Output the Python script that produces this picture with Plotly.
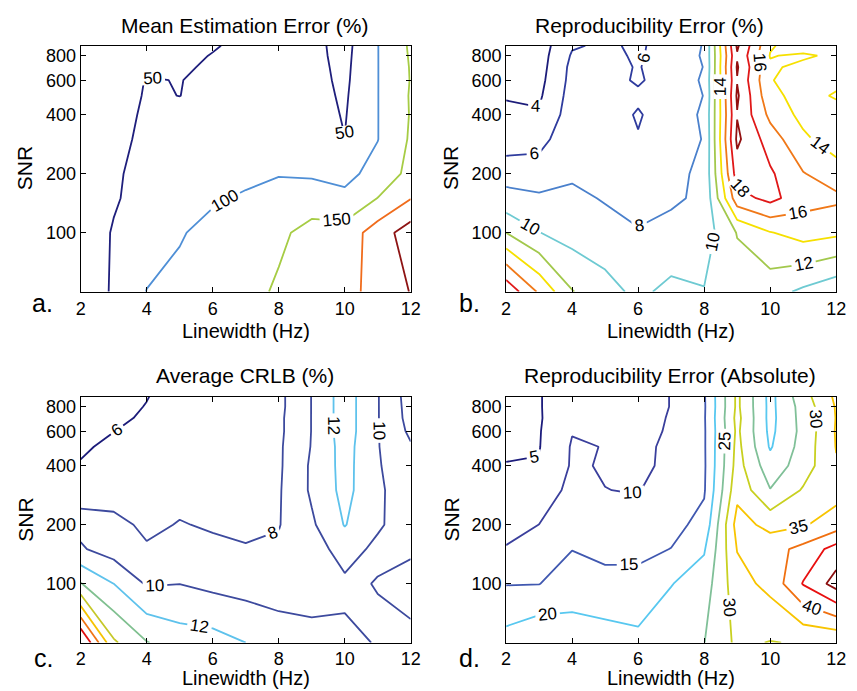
import plotly.graph_objects as go

# ---------------- data ----------------
LINEWIDTH = [2, 3, 4, 5, 6, 7, 8, 9, 10, 11, 12]           # Hz
SNR = [50, 100, 150, 200, 300, 400, 500, 600, 700, 800, 900]

# rows follow SNR (bottom -> top), columns follow LINEWIDTH
MEAN_ERR = [
    [22, 55, 101, 113, 125, 138, 155, 168, 185, 216, 252],
    [25, 53, 80, 96, 115, 130, 143, 162, 170, 225, 275],
    [28, 46, 65, 82, 94, 106, 120, 132, 110, 151, 198],
    [30, 44, 64, 75, 83, 88, 97, 92, 88, 115, 165],
    [31, 41, 57, 62, 68, 72, 85, 72, 50.5, 99, 156],
    [31, 40, 54, 56, 60, 66, 75, 67, 47, 99, 153],
    [31, 39, 52, 49.8, 56, 62, 70, 65, 44, 99, 154],
    [31, 38, 51, 49.5, 54, 60, 66, 64, 41, 99, 152],
    [31, 37, 47, 48, 52, 58, 63, 63, 39, 99, 153],
    [31, 36, 45, 47, 50.5, 56, 61, 62, 37, 99, 155],
    [31, 35, 44, 46, 49, 53, 60, 62, 35, 99, 157],
]

REPRO_ERR = [
    [19.5, 15.7, 12.1, 10.6, 9.6, 10.5, 10.1, 11.0, 10.8, 9.6, 8.5],
    [12.0, 10.05, 9.2, 9.0, 8.1, 8.6, 9.0, 12.1, 13.9, 14.8, 14.4],
    [8.55, 8.3, 8.6, 7.8, 7.5, 7.7, 8.37, 17.2, 18.6, 16.8, 16.4],
    [7.35, 7.0, 7.6, 7.4, 7.0, 7.5, 8.4, 19.0, 18.3, 16.1, 15.0],
    [4.75, 5.3, 7.4, 7.0, 6.1, 7.0, 8.1, 20.4, 17.0, 14.4, 12.9],
    [4.3, 4.2, 7.0, 6.8, 5.85, 6.9, 8.3, 19.9, 15.5, 13.4, 13.2],
    [3.9, 3.7, 6.8, 6.7, 6.3, 6.8, 8.05, 20.3, 14.5, 13.3, 14.2],
    [3.7, 3.4, 6.6, 6.6, 5.8, 6.8, 8.25, 19.9, 14.1, 13.2, 13.5],
    [3.5, 3.2, 6.5, 6.5, 5.9, 6.9, 8.05, 20.2, 14.3, 13.5, 13.4],
    [3.4, 3.1, 6.2, 6.4, 5.8, 6.8, 8.2, 19.8, 13.9, 14.3, 13.6],
    [3.3, 3.0, 5.8, 6.3, 5.7, 6.9, 8.1, 20.3, 14.2, 13.0, 13.8],
]

CRLB = [
    [24.5, 16.3, 14.1, 13.0, 12.8, 12.0, 10.8, 10.6, 10.4, 9.9, 9.0],
    [14.1, 12.0, 9.8, 9.98, 9.5, 9.2, 9.3, 9.2, 9.6, 7.6, 6.5],
    [10.2, 9.15, 8.2, 8.8, 8.4, 8.1, 8.3, 9.0, 10.9, 9.5, 8.6],
    [9.5, 8.6, 7.6, 8.1, 7.8, 7.7, 7.9, 9.7, 12.1, 10.3, 8.8],
    [6.3, 7.0, 7.2, 7.4, 7.4, 7.5, 7.8, 10.3, 12.6, 10.4, 8.6],
    [6.1, 6.6, 6.9, 7.2, 7.2, 7.4, 7.7, 10.3, 12.7, 10.2, 8.4],
    [5.8, 6.3, 6.6, 7.0, 7.1, 7.3, 7.7, 10.1, 12.8, 10.1, 8.2],
    [5.6, 5.98, 6.4, 6.9, 7.0, 7.3, 7.6, 10.05, 13.0, 10.1, 7.6],
    [5.5, 5.7, 6.2, 6.8, 6.9, 7.2, 7.6, 10.05, 13.0, 10.1, 7.3],
    [5.4, 5.6, 6.05, 6.7, 6.8, 7.2, 7.5, 10.05, 13.0, 10.1, 7.2],
    [5.3, 5.5, 5.95, 6.6, 6.7, 7.2, 7.5, 10.05, 13.0, 10.1, 7.1],
]

REPRO_ABS = [
    [22, 24.5, 23, 22.5, 21.3, 23.5, 24.9, 31, 29.8, 30.4, 30.3],
    [14.8, 14.9, 17.2, 16.2, 16.5, 19.8, 22.5, 33, 36.5, 45.3, 52],
    [10.2, 12, 14.9, 14.0, 13.8, 15.1, 19.5, 35.2, 38, 41.5, 47],
    [9.0, 10.02, 12.5, 11.5, 11.5, 13.5, 16.5, 37, 33.5, 34.5, 37.5],
    [6.5, 8.3, 10.8, 10.05, 9.8, 12.0, 14.5, 33.5, 25.2, 30.5, 33],
    [5.1, 5.2, 10.5, 9.7, 9.0, 11.0, 14.3, 32, 22, 27.5, 34.6],
    [4.6, 4.8, 10.4, 9.9, 8.8, 11.0, 14.4, 31.5, 19.5, 27, 35.2],
    [4.3, 4.7, 9.8, 9.5, 8.6, 10.5, 14.4, 31, 18.8, 26.5, 35.4],
    [4.1, 4.6, 8.5, 8.5, 8.5, 10.3, 14.5, 31.5, 18.5, 26.8, 35.2],
    [4.0, 4.8, 7.0, 8.0, 8.5, 10.1, 14.4, 31, 18.6, 27, 35.4],
    [3.9, 4.9, 6.0, 7.5, 8.5, 10.1, 14.5, 31, 18.5, 28, 36],
]

TITLES = ["Mean Estimation Error (%)", "Reproducibility Error (%)",
          "Average CRLB (%)", "Reproducibility Error (Absolute)"]
LETTERS = ["a.", "b.", "c.", "d."]
LEVELS = [(50, 250, 50), (4, 20, 2), (6, 22, 2), (5, 50, 5)]
LEVEL_COLORS = [
    ["#1f1f7c", "#4f8fd6", "#a6cc44", "#f06c1c", "#8e1414"],
    ["#1c1c7a", "#2f3c9e", "#4a80cc", "#6ecad2", "#a2c84c", "#f6e000",
     "#f07818", "#e01818", "#921010"],
    ["#1c1c7a", "#3d4a9e", "#3d4a9e", "#5ec2ec", "#80c090", "#c6c82a",
     "#f6c200", "#f07414", "#e01010"],
    ["#1c1c7c", "#3a3f9c", "#4058b0", "#58c8f0", "#80c098", "#c8d020",
     "#f8c400", "#f07010", "#e81010", "#8c1010"],
]
X_TICKS = [2, 4, 6, 8, 10, 12]
Y_TICKS = [100, 200, 400, 600, 800]

# ---------------- layout geometry ----------------
W, H = 857, 691
FONT = "Liberation Sans, Arial, Helvetica, sans-serif"
X_DOMAINS = [(77, 413), (510, 846), (77, 413), (510, 846)]
Y_DOMAINS = [(45.7, 291.7), (45.7, 291.7), (396.7, 642.7), (396.7, 642.7)]


def px(x):
    return x / W


def py(y):
    return 1 - y / H


fig = go.Figure()
datasets = [MEAN_ERR, REPRO_ERR, CRLB, REPRO_ABS]

for i, z in enumerate(datasets):
    start, end, step = LEVELS[i]
    cols = LEVEL_COLORS[i]
    n = len(cols)
    cscale = [[k / (n - 1), c] for k, c in enumerate(cols)]
    fig.add_trace(go.Contour(
        x=LINEWIDTH, y=SNR, z=z,
        xaxis="x" if i == 0 else f"x{i+1}",
        yaxis="y" if i == 0 else f"y{i+1}",
        contours=dict(coloring="lines", start=start, end=end, size=step,
                      showlabels=True,
                      labelfont=dict(size=17, color="black", family=FONT)),
        colorscale=cscale, showscale=False,
        line=dict(width=1.8, smoothing=0),
        hoverinfo="skip",
    ))

axis_common = dict(showline=True, linecolor="black", linewidth=1,
                   mirror="allticks", ticks="inside", ticklen=5,
                   tickcolor="black", showgrid=False, zeroline=False,
                   tickfont=dict(size=18, color="black", family=FONT))

layout = dict(width=W, height=H, margin=dict(l=0, r=0, t=0, b=0),
              paper_bgcolor="white", plot_bgcolor="white",
              showlegend=False, font=dict(family=FONT, color="black"))

annotations = []
for i in range(4):
    xs = "" if i == 0 else str(i + 1)
    x0, x1 = X_DOMAINS[i]
    y0, y1 = Y_DOMAINS[i]
    layout["xaxis" + xs] = dict(axis_common, domain=[px(x0), px(x1)],
                                range=[2, 12], tickvals=X_TICKS,
                                ticklabelstandoff=1 if i < 2 else 0,
                                anchor="y" + xs)
    layout["yaxis" + xs] = dict(axis_common, domain=[py(y1), py(y0)],
                                type="log", range=[1.69897, 2.95424],
                                tickvals=Y_TICKS,
                                ticktext=[str(v) for v in Y_TICKS],
                                anchor="x" + xs)

TITLE_POS = [(244, 25.5), (656, 25), (244, 375), (677, 375.5)]
YLAB_POS = [(20, 168.5), (453.5, 168.5), (20, 520), (453.5, 520)]
LETTER_POS = [(38.5, 303), (473, 302.5), (39, 657.5), (473, 657.5)]
XLAB_X = [245, 678, 245, 678]

for i in range(4):
    tx, ty = TITLE_POS[i]
    annotations.append(dict(text=TITLES[i], x=px(tx), y=py(ty), xref="paper",
                            yref="paper", showarrow=False, xanchor="center",
                            yanchor="middle",
                            font=dict(size=21, color="black", family=FONT)))
    if i < 2:
        xlab = dict(y=py(330.5), yanchor="middle")
    else:
        xlab = dict(y=0, yanchor="bottom")
    annotations.append(dict(text="Linewidth (Hz)", x=px(XLAB_X[i]),
                            xref="paper", yref="paper", showarrow=False,
                            xanchor="center",
                            font=dict(size=20, color="black", family=FONT),
                            **xlab))
    sx, sy = YLAB_POS[i]
    annotations.append(dict(text="SNR", x=px(sx), y=py(sy), xref="paper",
                            yref="paper", showarrow=False, textangle=-90,
                            xanchor="center", yanchor="middle",
                            font=dict(size=21, color="black", family=FONT)))
    ax_, ay_ = LETTER_POS[i]
    annotations.append(dict(text=LETTERS[i], x=px(ax_), y=py(ay_),
                            xref="paper", yref="paper", showarrow=False,
                            xanchor="center", yanchor="middle",
                            font=dict(size=25, color="black", family=FONT)))

layout["annotations"] = annotations
fig.update_layout(**layout)

# remove the browser's default 8px page margin so the figure fills the window
fig.write_html(
    "out.html",
    config={"displayModeBar": False},
    post_script=("document.body.style.margin='0px';"
                 "document.body.style.padding='0px';"
                 "document.documentElement.style.overflow='hidden';"),
)
